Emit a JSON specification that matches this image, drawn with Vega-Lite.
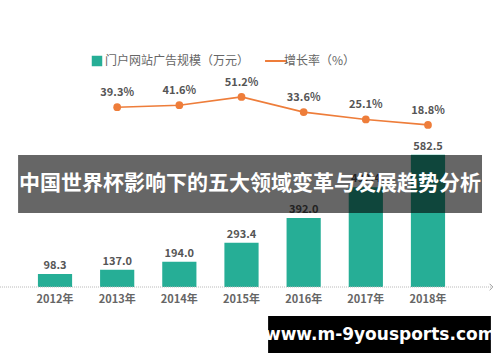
{
  "$schema": "https://vega.github.io/schema/vega-lite/v6.json",
  "width": 483,
  "height": 202,
  "autosize": {"type": "none"},
  "padding": {"left": 0, "top": 85, "right": 17, "bottom": 75},
  "background": "white",
  "config": {
    "font": "Noto Sans CJK SC",
    "view": {"stroke": null}
  },
  "data": {
    "values": [
      {"year": "2012年", "scale": 98.3, "growth": null},
      {"year": "2013年", "scale": 137.0, "growth": 39.3},
      {"year": "2014年", "scale": 194.0, "growth": 41.6},
      {"year": "2015年", "scale": 293.4, "growth": 51.2},
      {"year": "2016年", "scale": 392.0, "growth": 33.6},
      {"year": "2017年", "scale": 492.4, "growth": 25.1},
      {"year": "2018年", "scale": 582.5, "growth": 18.8}
    ]
  },
  "encoding": {
    "x": {
      "field": "year",
      "type": "nominal",
      "sort": null,
      "scale": {"paddingInner": 0.45, "paddingOuter": 0.61},
      "axis": {
        "title": null,
        "labelAngle": 0,
        "ticks": false,
        "domain": false,
        "labelFontSize": 11,
        "labelColor": "#666",
        "labelFontWeight": "bold",
        "labelPadding": 6
      }
    }
  },
  "layer": [
    {
      "mark": {"type": "bar"},
      "encoding": {
        "y": {"field": "scale", "type": "quantitative", "scale": {"type": "pow", "exponent": 1.8, "domain": [-126.5, 746], "nice": false, "zero": false}, "axis": null},
        "y2": {"datum": -126.5},
        "color": {
          "datum": "门户网站广告规模（万元）",
          "scale": {"domain": ["门户网站广告规模（万元）", "增长率（%）"], "range": ["#26ae96", "#ee7d3a"]},
          "legend": {
            "title": null,
            "orient": "none",
            "direction": "horizontal",
            "legendX": 91,
            "legendY": -30,
            "labelFontSize": 12,
            "labelLimit": 300,
            "labelColor": "#666",
            "symbolSize": 480,
            "columnPadding": 11,
            "labelOffset": 2,
            "encode": {
              "symbols": {
                "update": {
                  "shape": {"signal": "datum.value === '增长率（%）' ? 'stroke' : 'square'"},
                  "size": {"signal": "datum.value === '增长率（%）' ? 480 : 110"},
                  "stroke": {"signal": "datum.value === '增长率（%）' ? '#ee7d3a' : '#26ae96'"},
                  "strokeWidth": {"signal": "datum.value === '增长率（%）' ? 2 : 0"}
                }
              }
            }
          }
        }
      }
    },
    {
      "mark": {"type": "text", "dy": -8, "fontSize": 11, "fontWeight": "bold", "color": "#555"},
      "encoding": {
        "y": {"field": "scale", "type": "quantitative", "scale": {"type": "pow", "exponent": 1.8, "domain": [-126.5, 746], "nice": false, "zero": false}, "axis": null},
        "text": {"field": "scale", "type": "quantitative", "format": ".1f"}
      }
    },
    {
      "data": {"values": [{"axis": "baseline"}]},
      "mark": {"type": "rule", "color": "#b8b8b8", "strokeWidth": 1, "strokeDash": [1, 1]},
      "encoding": {
        "x": {"datum": "2012年", "bandPosition": -1.108},
        "x2": {"datum": "2018年", "bandPosition": 2.37},
        "y": {"datum": -169, "type": "quantitative", "scale": {"domain": [-169, 65], "nice": false, "zero": false}, "axis": null}
      }
    },
    {
      "data": {"values": [{"axis": "arrow"}]},
      "mark": {"type": "point", "shape": "M-0.5,-1L0.5,0L-0.5,1", "filled": false, "stroke": "#999", "strokeWidth": 1, "size": 40, "opacity": 1},
      "encoding": {
        "x": {"datum": "2018年", "bandPosition": 2.35},
        "y": {"datum": -169, "type": "quantitative", "scale": {"domain": [-169, 65], "nice": false, "zero": false}, "axis": null}
      }
    },
    {
      "transform": [{"filter": "datum.growth != null"}],
      "mark": {"type": "line", "strokeWidth": 1.6, "color": "#ee7d3a"},
      "encoding": {
        "y": {"field": "growth", "type": "quantitative", "scale": {"domain": [-169, 65], "nice": false, "zero": false}, "axis": null},
        "color": {"datum": "增长率（%）"}
      }
    },
    {
      "transform": [{"filter": "datum.growth != null"}],
      "mark": {"type": "point", "filled": true, "size": 60, "opacity": 1, "color": "#ee7d3a"},
      "encoding": {
        "y": {"field": "growth", "type": "quantitative", "scale": {"domain": [-169, 65], "nice": false, "zero": false}, "axis": null}
      }
    },
    {
      "transform": [{"filter": "datum.growth != null"}, {"calculate": "format(datum.growth, '.1f') + '%'", "as": "glabel"}],
      "mark": {"type": "text", "dy": -14, "fontSize": 11, "fontWeight": "bold", "color": "#555"},
      "encoding": {
        "y": {"field": "growth", "type": "quantitative", "scale": {"domain": [-169, 65], "nice": false, "zero": false}, "axis": null},
        "text": {"field": "glabel"}
      }
    },
    {
      "data": {"values": [{"banner": "中国世界杯影响下的五大领域变革与发展趋势分析"}]},
      "mark": {"type": "rect", "color": "black", "opacity": 0.6},
      "encoding": {
        "x": {"datum": "2012年", "bandPosition": -0.58},
        "x2": {"datum": "2018年", "bandPosition": 2.08},
        "y": {"datum": -16.1, "type": "quantitative", "scale": {"domain": [-169, 65], "nice": false, "zero": false}, "axis": null},
        "y2": {"datum": -83.3}
      }
    },
    {
      "data": {"values": [{"banner": "中国世界杯影响下的五大领域变革与发展趋势分析"}]},
      "mark": {"type": "text", "color": "white", "fontSize": 21, "fontWeight": "bold", "baseline": "middle", "align": "center"},
      "encoding": {
        "x": {"datum": "2015年", "bandPosition": 0.75},
        "y": {"datum": -49.7, "type": "quantitative", "scale": {"domain": [-169, 65], "nice": false, "zero": false}, "axis": null},
        "text": {"field": "banner"}
      }
    },
    {
      "data": {"values": [{"mark": "www.m-9yousports.com"}]},
      "mark": {"type": "rect", "color": "black"},
      "encoding": {
        "x": {"datum": "2016年", "bandPosition": -0.54},
        "x2": {"datum": "2018年", "bandPosition": 2.34},
        "y": {"datum": -202.6, "type": "quantitative", "scale": {"domain": [-169, 65], "nice": false, "zero": false}, "axis": null},
        "y2": {"datum": -245.5}
      }
    },
    {
      "data": {"values": [{"mark": "www.m-9yousports.com"}]},
      "mark": {"type": "text", "color": "white", "fontSize": 17, "fontWeight": "bold", "baseline": "middle", "align": "center", "font": "DejaVu Sans"},
      "encoding": {
        "x": {"datum": "2017年", "bandPosition": 0.92},
        "y": {"datum": -224.6, "type": "quantitative", "scale": {"domain": [-169, 65], "nice": false, "zero": false}, "axis": null},
        "text": {"field": "mark"}
      }
    }
  ],
  "resolve": {"scale": {"y": "independent"}}
}
